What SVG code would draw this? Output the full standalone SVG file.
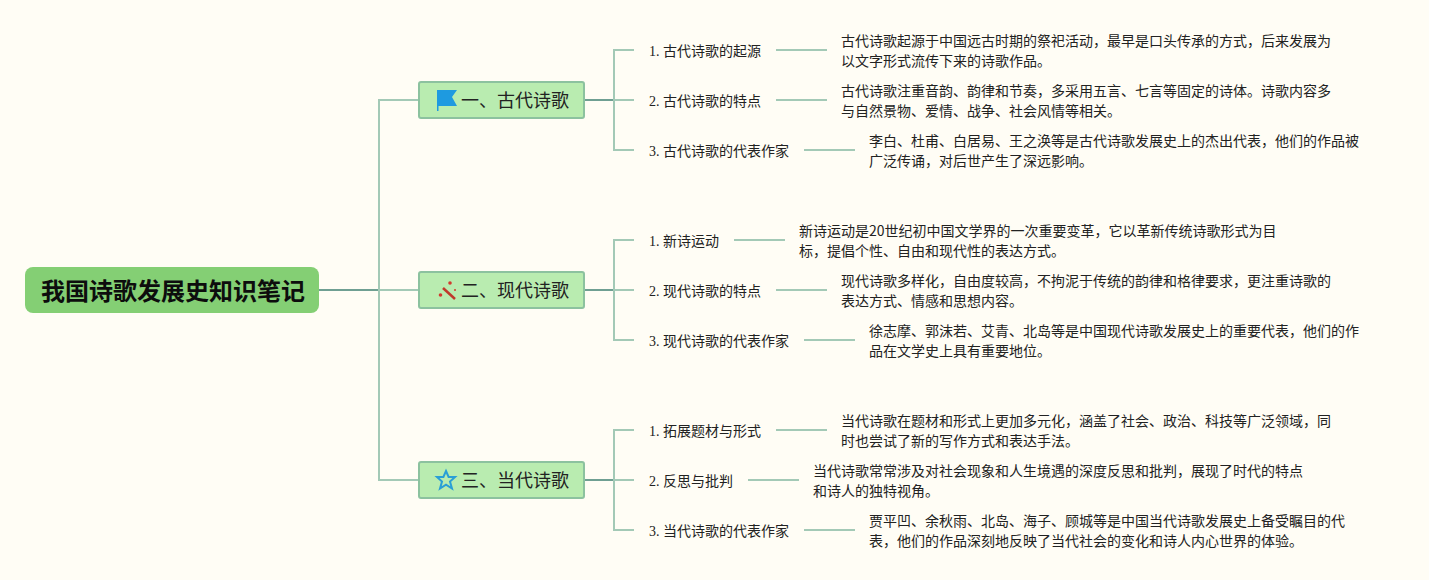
<svg xmlns="http://www.w3.org/2000/svg" width="1429" height="580" viewBox="0 0 1429 580">
<style>
text{font-family:"Liberation Serif","Noto Sans CJK SC",serif;fill:#222;font-size:14px}
.root{font-family:"Noto Sans CJK SC",sans-serif;font-weight:700;font-size:24px;fill:#0d0d0d}
.main{font-family:"Noto Sans CJK SC",sans-serif;font-size:18px}
.d{font-family:"Noto Sans CJK SC",sans-serif}
.box{fill:#b9ecb0;stroke:#8cc29f;stroke-width:2}
.c{fill:none;stroke:#a3c9b6;stroke-width:2}
.t{fill:none;stroke:#6f9f92;stroke-width:2}
</style>
<rect width="1429" height="580" fill="#fffdf5"/>
<g id="connectors">
<path class="t" d="M319 290H379"/>
<path class="c" d="M379 290H419M419 100H379V480H419"/>
<path class="t" d="M584 100H614M584 290H614M584 480H614"/>
<path class="c" d="M634 50H614V150H634M614 100H634"/>
<path class="c" d="M634 240H614V340H634M614 290H634"/>
<path class="c" d="M634 430H614V530H634M614 480H634"/>
<path class="c" d="M776 50H827M776 100H827M804 150H855M734 240H785M776 290H827M804 340H855M776 430H827M748 480H799M804 530H855"/>
</g>
<g id="root"><rect x="25" y="267" width="294" height="46" rx="8" fill="#84cf74"/><text class="root" x="41" y="300">我国诗歌发展史知识笔记</text></g>
<g id="n1"><rect class="box" x="419" y="82" width="165" height="36" rx="2"/>
<path d="M437 90H457L452 97L457 106H438.500V111H437Z" fill="#1e9ae0"/><text class="main" x="461" y="107">一、古代诗歌</text></g>
<g id="n2"><rect class="box" x="419" y="272" width="165" height="36" rx="2"/>
<path d="M443 288L455 299" stroke="#c0392b" fill="none" stroke-width="2.500"/><g fill="#d23a2e"><circle cx="450" cy="283" r="1.800"/><circle cx="440.500" cy="295" r="1.800"/><circle cx="455" cy="290" r="1"/></g><text class="main" x="461" y="297">二、现代诗歌</text></g>
<g id="n3"><rect class="box" x="419" y="462" width="165" height="36" rx="2"/>
<path d="M446 471L448.600 477H455L450 481.500L452 488.500L446 484.700L440 488.500L442 481.500L437 477H443.400Z" fill="none" stroke="#2a9fd6" stroke-width="2"/><text class="main" x="461" y="487">三、当代诗歌</text></g>
<g id="s1"><text x="649" y="56">1. <tspan class="d">古代诗歌的起源</tspan></text></g>
<g id="s2"><text x="649" y="106">2. <tspan class="d">古代诗歌的特点</tspan></text></g>
<g id="s3"><text x="649" y="156">3. <tspan class="d">古代诗歌的代表作家</tspan></text></g>
<g id="s4"><text x="649" y="246">1. <tspan class="d">新诗运动</tspan></text></g>
<g id="s5"><text x="649" y="296">2. <tspan class="d">现代诗歌的特点</tspan></text></g>
<g id="s6"><text x="649" y="346">3. <tspan class="d">现代诗歌的代表作家</tspan></text></g>
<g id="s7"><text x="649" y="436">1. <tspan class="d">拓展题材与形式</tspan></text></g>
<g id="s8"><text x="649" y="486">2. <tspan class="d">反思与批判</tspan></text></g>
<g id="s9"><text x="649" y="536">3. <tspan class="d">当代诗歌的代表作家</tspan></text></g>
<g id="d1"><text class="d" x="841" y="46">古代诗歌起源于中国远古时期的祭祀活动，最早是口头传承的方式，后来发展为</text><text class="d" x="841" y="66">以文字形式流传下来的诗歌作品。</text></g>
<g id="d2"><text class="d" x="841" y="96">古代诗歌注重音韵、韵律和节奏，多采用五言、七言等固定的诗体。诗歌内容多</text><text class="d" x="841" y="116">与自然景物、爱情、战争、社会风情等相关。</text></g>
<g id="d3"><text class="d" x="869" y="146">李白、杜甫、白居易、王之涣等是古代诗歌发展史上的杰出代表，他们的作品被</text><text class="d" x="869" y="166">广泛传诵，对后世产生了深远影响。</text></g>
<g id="d4"><text class="d" x="799" y="236">新诗运动是20世纪初中国文学界的一次重要变革，它以革新传统诗歌形式为目</text><text class="d" x="799" y="256">标，提倡个性、自由和现代性的表达方式。</text></g>
<g id="d5"><text class="d" x="841" y="286">现代诗歌多样化，自由度较高，不拘泥于传统的韵律和格律要求，更注重诗歌的</text><text class="d" x="841" y="306">表达方式、情感和思想内容。</text></g>
<g id="d6"><text class="d" x="869" y="336">徐志摩、郭沫若、艾青、北岛等是中国现代诗歌发展史上的重要代表，他们的作</text><text class="d" x="869" y="356">品在文学史上具有重要地位。</text></g>
<g id="d7"><text class="d" x="841" y="426">当代诗歌在题材和形式上更加多元化，涵盖了社会、政治、科技等广泛领域，同</text><text class="d" x="841" y="446">时也尝试了新的写作方式和表达手法。</text></g>
<g id="d8"><text class="d" x="813" y="476">当代诗歌常常涉及对社会现象和人生境遇的深度反思和批判，展现了时代的特点</text><text class="d" x="813" y="496">和诗人的独特视角。</text></g>
<g id="d9"><text class="d" x="869" y="526">贾平凹、余秋雨、北岛、海子、顾城等是中国当代诗歌发展史上备受瞩目的代</text><text class="d" x="869" y="546">表，他们的作品深刻地反映了当代社会的变化和诗人内心世界的体验。</text></g>
</svg>
